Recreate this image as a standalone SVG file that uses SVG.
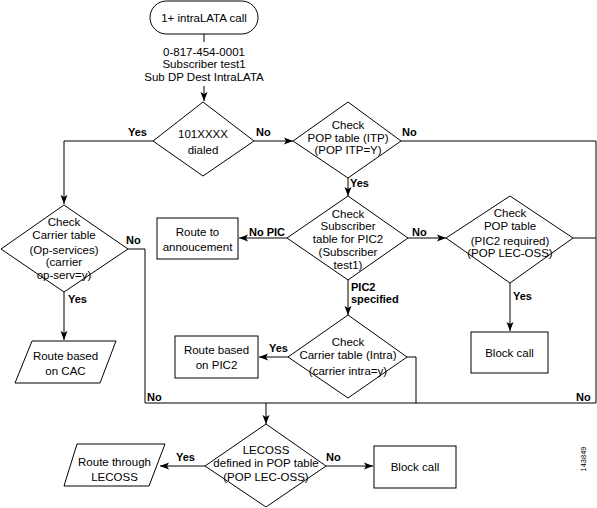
<svg xmlns="http://www.w3.org/2000/svg" width="597" height="508" viewBox="0 0 597 508">
<defs>
<marker id="ah" markerUnits="userSpaceOnUse" markerWidth="10" markerHeight="8" refX="9" refY="4" orient="auto">
<path d="M0,0.5 L9,4 L0,7.5 L2,4 Z" fill="#000"/>
</marker>
<style>
.s{fill:#fff;stroke:#000;stroke-width:1}
.c{fill:none;stroke:#000;stroke-width:1}
.a{marker-end:url(#ah)}
text{font-family:"Liberation Sans",Arial,sans-serif;font-size:11.5px;fill:#000}
.t{text-anchor:middle}
.l{font-size:11px;font-weight:bold}
.id{font-size:7.5px}
</style>
</defs>
<rect width="597" height="508" fill="#fff"/>
<g id="connectors">
<line class="c" x1="204" y1="34" x2="204" y2="42"/>
<line class="c a" x1="204" y1="86" x2="204" y2="101"/>
<polyline class="c a" points="153,141 64,141 64,204"/>
<line class="c a" x1="254" y1="141" x2="293" y2="141"/>
<polyline class="c" points="401,141 596,141 596,403"/>
<line class="c a" x1="348" y1="178" x2="348" y2="196"/>
<line class="c a" x1="287" y1="238" x2="239" y2="238"/>
<line class="c a" x1="408" y1="238" x2="446" y2="238"/>
<line class="c" x1="573" y1="238" x2="596" y2="238"/>
<line class="c a" x1="510" y1="283" x2="510" y2="331"/>
<line class="c a" x1="348" y1="280" x2="348" y2="315"/>
<line class="c a" x1="288" y1="357" x2="259" y2="357"/>
<polyline class="c" points="407,357 416,357 416,403"/>
<polyline class="c" points="128,249 145,249 145,403 596,403"/>
<line class="c a" x1="64" y1="292" x2="64" y2="340"/>
<line class="c a" x1="266" y1="403" x2="266" y2="424"/>
<line class="c a" x1="205" y1="466" x2="160" y2="466"/>
<line class="c a" x1="326" y1="466" x2="373" y2="466"/>
<text class="l" x="128" y="136">Yes</text>
<text class="l" x="256" y="136">No</text>
<text class="l" x="402" y="136">No</text>
<text class="l" x="350" y="187">Yes</text>
<text class="l" x="249" y="236">No PIC</text>
<text class="l" x="412" y="236">No</text>
<text class="l" x="351" y="291">PIC2</text>
<text class="l" x="351" y="303">specified</text>
<text class="l" x="513" y="300">Yes</text>
<text class="l" x="126" y="244">No</text>
<text class="l" x="68" y="303">Yes</text>
<text class="l" x="269" y="352">Yes</text>
<text class="l" x="147" y="401">No</text>
<text class="l" x="576" y="401">No</text>
<text class="l" x="176" y="461">Yes</text>
<text class="l" x="326" y="461">No</text>
</g>
<g id="start">
<rect class="s" x="150" y="1" width="108" height="33" rx="16.5"/>
<text class="t" x="204" y="22">1+ intraLATA call</text>
<text class="t" x="204" y="56">0-817-454-0001</text>
<text class="t" x="204" y="68">Subscriber test1</text>
<text class="t" x="204" y="81">Sub DP Dest IntraLATA</text>
</g>
<g id="d101">
<polygon class="s" points="203,102 254,141 203,176 153,141"/>
<text class="t" x="203" y="138">101XXXX</text>
<text class="t" x="203" y="154">dialed</text>
</g>
<g id="popitp">
<polygon class="s" points="348,102 401,141 348,178 293,141"/>
<text class="t" x="348" y="129">Check</text>
<text class="t" x="348" y="142">POP table (ITP)</text>
<text class="t" x="348" y="154">(POP ITP=Y)</text>
</g>
<g id="subpic2">
<polygon class="s" points="348,196 408,238 348,280 287,238"/>
<text class="t" x="348" y="218">Check</text>
<text class="t" x="348" y="230">Subscriber</text>
<text class="t" x="348" y="243">table for PIC2</text>
<text class="t" x="348" y="256">(Subscriber</text>
<text class="t" x="348" y="269">test1)</text>
</g>
<g id="announce">
<rect class="s" x="157" y="218" width="81" height="41"/>
<text class="t" x="197.5" y="236">Route to</text>
<text class="t" x="197.5" y="251">annoucement</text>
</g>
<g id="poppic2">
<polygon class="s" points="510,196 573,238 510,283 446,238"/>
<text class="t" x="510" y="217">Check</text>
<text class="t" x="510" y="230">POP table</text>
<text class="t" x="510" y="245">(PIC2 required)</text>
<text class="t" x="510" y="257">(POP LEC-OSS)</text>
</g>
<g id="block1">
<rect class="s" x="471" y="332" width="77" height="41"/>
<text class="t" x="509.5" y="357">Block call</text>
</g>
<g id="carrintra">
<polygon class="s" points="348,315 407,357 348,398 288,357"/>
<text class="t" x="348" y="346">Check</text>
<text class="t" x="348" y="359">Carrier table (Intra)</text>
<text class="t" x="348" y="375">(carrier intra=y)</text>
</g>
<g id="routepic2">
<rect class="s" x="175" y="336" width="83" height="42"/>
<text class="t" x="216.5" y="354">Route based</text>
<text class="t" x="216.5" y="369">on PIC2</text>
</g>
<g id="opserv">
<polygon class="s" points="64,205 128,249 64,292 1,249"/>
<text class="t" x="64" y="226">Check</text>
<text class="t" x="64" y="239">Carrier table</text>
<text class="t" x="64" y="254">(Op-services)</text>
<text class="t" x="64" y="266">(carrier</text>
<text class="t" x="64" y="279">op-serv=y)</text>
</g>
<g id="routecac">
<polygon class="s" points="32,341 116,341 100,383 15,383"/>
<text class="t" x="65.5" y="360">Route based</text>
<text class="t" x="65.5" y="375">on CAC</text>
</g>
<g id="lecoss">
<polygon class="s" points="266,424 326,466 266,507 205,466"/>
<text class="t" x="266" y="454">LECOSS</text>
<text class="t" x="266" y="467">defined in POP table</text>
<text class="t" x="266" y="481">(POP LEC-OSS)</text>
</g>
<g id="routelecoss">
<polygon class="s" points="77,444 165,444 149,486 64,486"/>
<text class="t" x="114.5" y="466">Route through</text>
<text class="t" x="114.5" y="481">LECOSS</text>
</g>
<g id="block2">
<rect class="s" x="374" y="446" width="82" height="42"/>
<text class="t" x="415" y="471">Block call</text>
</g>
<text class="id t" transform="translate(586,459) rotate(-90)">143849</text>
</svg>
